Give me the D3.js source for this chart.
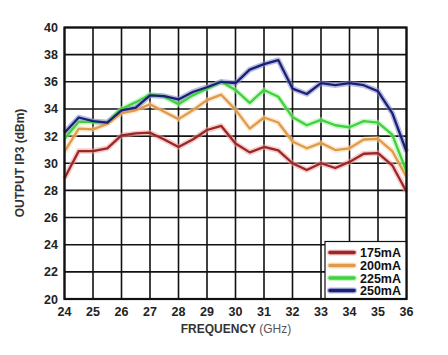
<!DOCTYPE html>
<html><head><meta charset="utf-8">
<script src="https://cdn.jsdelivr.net/npm/d3@7/dist/d3.min.js"></script>
<style>body{margin:0;background:#fff}svg{display:block}</style>
</head><body><svg id="c" width="448" height="355"></svg>
<script>
const freqs = [24,24.5,25,25.5,26,26.5,27,27.5,28,28.5,29,29.5,30,30.5,31,31.5,32,32.5,33,33.5,34,34.5,35,35.5,36];
const s175 = [28.9,30.9,30.9,31.1,32.05,32.2,32.25,31.75,31.2,31.75,32.45,32.75,31.45,30.8,31.2,30.95,30.0,29.5,30.0,29.65,30.1,30.7,30.75,29.85,27.9];
const s200 = [30.85,32.55,32.5,32.9,33.7,33.9,34.35,33.8,33.25,33.9,34.65,35.05,33.95,32.55,33.37,33.0,31.6,31.1,31.5,30.97,31.1,31.75,31.8,30.9,29.0];
const s225 = [31.8,33.05,33.05,33.0,34.0,34.5,35.05,34.9,34.35,35.0,35.5,36.0,35.4,34.45,35.4,34.9,33.4,32.8,33.2,32.8,32.65,33.1,33.0,32.1,29.4];
const s250 = [32.25,33.37,33.1,33.0,33.9,34.1,35.0,34.95,34.7,35.25,35.6,36.0,35.9,36.9,37.3,37.6,35.5,35.1,35.9,35.75,35.9,35.75,35.3,33.7,30.85];
const seriesNames = ["175mA","200mA","225mA","250mA"];
const xTicks = [24,25,26,27,28,29,30,31,32,33,34,35,36];
const yTicks = [20,22,24,26,28,30,32,34,36,38,40];
const colors = ["#9a2626","#e09a4a","#3fd23f","#1c1f78"];
const halos = ["#f2a0a0","#f8d8a8","#a8f0a0","#8088c8"];
const seriesVals = [s175,s200,s225,s250];

const svg = d3.select("#c");
const L=64.5,R=406.5,T=27.5,B=299;
const x = d3.scaleLinear().domain([24,36]).range([L,R]);
const y = d3.scaleLinear().domain([20,40]).range([B,T]);
const font = "'Liberation Sans', Arial, sans-serif";

const legL = 325, legT = 241.5;

// grid
const g = svg.append("g");
xTicks.forEach(t=>{
  const xx = x(t);
  const yb = (xx>legL && xx<R-1) ? legT : B;
  g.append("line").attr("x1",xx).attr("x2",xx).attr("y1",T).attr("y2",yb).attr("stroke","#111").attr("stroke-width",1.6);
});
yTicks.forEach(t=>{
  const yy = y(t);
  const xr = (yy>legT && yy<B-1) ? legL : R;
  g.append("line").attr("x1",L).attr("x2",xr).attr("y1",yy).attr("y2",yy).attr("stroke","#111").attr("stroke-width",1.6);
});

// lines
const line = d3.line().x((d,i)=>x(freqs[i])).y(d=>y(d));
seriesVals.forEach((vals,k)=>{
  svg.append("path").datum(vals).attr("d",line).attr("fill","none")
    .attr("stroke",halos[k]).attr("stroke-width",5.5).attr("stroke-opacity",0.55).attr("stroke-linejoin","round");
});
seriesVals.forEach((vals,k)=>{
  svg.append("path").datum(vals).attr("d",line).attr("fill","none")
    .attr("stroke",colors[k]).attr("stroke-width",2.3).attr("stroke-linejoin","round");
});

// legend
svg.append("rect").attr("x",legL).attr("y",legT).attr("width",R-legL).attr("height",B-legT)
  .attr("fill","#fff").attr("stroke","#111").attr("stroke-width",1.2);
const legRows = [252.5,265.5,278,290.5];
seriesNames.forEach((n,k)=>{
  svg.append("line").attr("x1",330).attr("x2",354).attr("y1",legRows[k]).attr("y2",legRows[k])
    .attr("stroke",halos[k]).attr("stroke-width",6).attr("stroke-linecap","round").attr("stroke-opacity",0.6);
  svg.append("line").attr("x1",330).attr("x2",354).attr("y1",legRows[k]).attr("y2",legRows[k])
    .attr("stroke",colors[k]).attr("stroke-width",3.5).attr("stroke-linecap","round");
  svg.append("text").attr("x",360).attr("y",legRows[k]+4.5).text(n)
    .attr("font-family",font).attr("font-size",12.5).attr("font-weight","bold").attr("fill","#111");
});

// plot border
svg.append("rect").attr("x",L).attr("y",T).attr("width",R-L).attr("height",B-T)
  .attr("fill","none").attr("stroke","#111").attr("stroke-width",2.2);

// tick labels
yTicks.forEach(t=>{
  svg.append("text").attr("x",58).attr("y",y(t)+4.5).attr("text-anchor","end").text(t)
    .attr("font-family",font).attr("font-size",12.5).attr("font-weight","bold").attr("fill","#222");
});
xTicks.forEach(t=>{
  svg.append("text").attr("x",x(t)).attr("y",316).attr("text-anchor","middle").text(t)
    .attr("font-family",font).attr("font-size",12.5).attr("font-weight","bold").attr("fill","#222");
});

// axis titles
const xt = svg.append("text").attr("x",236).attr("y",333).attr("text-anchor","middle")
  .attr("font-family",font).attr("font-size",12).attr("font-weight","bold").attr("fill","#333");
xt.append("tspan").text("FREQUENCY ");
xt.append("tspan").text("(GHz)").attr("font-weight","normal").attr("fill","#555");
svg.append("text").attr("transform","translate(23.5,163) rotate(-90)").attr("text-anchor","middle")
  .text("OUTPUT IP3 (dBm)").attr("font-family",font).attr("font-size",12).attr("font-weight","bold").attr("fill","#333");
</script></body></html>
